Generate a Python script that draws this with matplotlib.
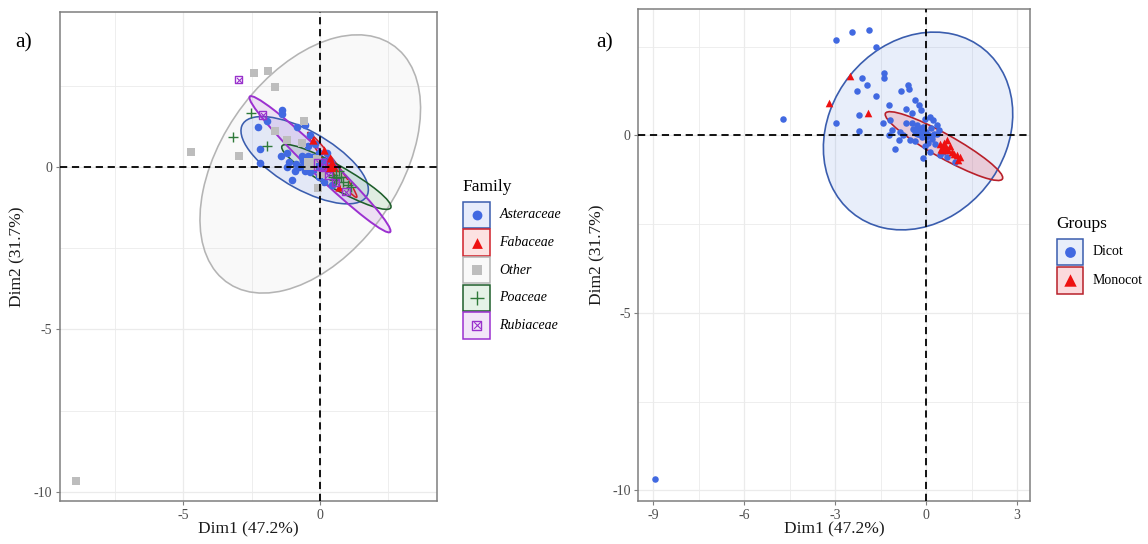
import matplotlib
matplotlib.use("Agg")
import matplotlib.pyplot as plt
from matplotlib.patches import Ellipse, Rectangle
import numpy as np

plt.rcParams['font.family'] = ['Liberation Serif', 'DejaVu Serif']
plt.rcParams['axes.unicode_minus'] = False

# ---- individuals on the first two principal dimensions ----
dim1 = [-8.94, -4.71, -2.97, -2.43, -1.89, -1.64, -2.51, -2.10, -1.94, -2.27,
        -1.39, -1.39, -1.64, -1.21, -3.19, -1.92, -2.21, -0.60, -0.55, -0.83,
        -0.36, -0.25, -0.66, -0.17, -0.45, -2.97, -1.41, -1.19, -1.13, -0.86,
        -0.75, -0.91, -1.02, -0.53, 0.13, 0.24, 0.35, 0.41, -0.09, 0.13,
        0.57, -0.30, -0.20, -0.10, 0.00, 0.10, -0.15, 0.20, 0.05, -0.05,
        0.25, -0.25, 0.15, 0.37, -0.43, -0.35, 0.30, 0.46, 0.57, 0.85,
        1.01, 1.12, 0.68, 0.71, 0.92, 0.51, 0.78, 1.05, 0.45, 0.95,
        0.70, -0.45, -0.65, -0.05, 0.00, -1.22, -2.20]
dim2 = [-9.68, 0.46, 2.70, 2.91, 2.96, 2.48, 1.67, 1.61, 1.43, 1.25,
        1.76, 1.63, 1.11, 0.85, 0.92, 0.64, 0.57, 1.42, 1.30, 1.25,
        0.99, 0.85, 0.74, 0.71, 0.64, 0.34, 0.34, 0.43, 0.15, 0.10,
        0.01, -0.13, -0.39, -0.13, 0.52, 0.43, 0.29, 0.15, -0.65, -0.46,
        -0.46, 0.30, 0.15, 0.25, 0.10, 0.00, -0.05, -0.10, -0.20, -0.30,
        0.05, 0.05, 0.20, 0.05, 0.17, -0.15, -0.25, -0.23, -0.32, -0.46,
        -0.55, -0.60, -0.13, -0.41, -0.52, -0.41, -0.30, -0.68, -0.55, -0.75,
        -0.60, 0.35, 0.35, 0.45, -0.05, 0.00, 0.12]
family = ["Other", "Other", "Rubiaceae", "Other", "Other", "Other", "Poaceae", "Rubiaceae", "Asteraceae", "Asteraceae",
          "Asteraceae", "Asteraceae", "Other", "Other", "Poaceae", "Poaceae", "Asteraceae", "Other", "Asteraceae", "Asteraceae",
          "Asteraceae", "Fabaceae", "Other", "Asteraceae", "Asteraceae", "Other", "Asteraceae", "Asteraceae", "Asteraceae", "Asteraceae",
          "Asteraceae", "Asteraceae", "Asteraceae", "Asteraceae", "Fabaceae", "Asteraceae", "Fabaceae", "Asteraceae", "Other", "Asteraceae",
          "Rubiaceae", "Asteraceae", "Asteraceae", "Other", "Asteraceae", "Rubiaceae", "Asteraceae", "Asteraceae", "Other", "Asteraceae",
          "Fabaceae", "Asteraceae", "Asteraceae", "Fabaceae", "Other", "Asteraceae", "Rubiaceae", "Poaceae", "Poaceae", "Poaceae",
          "Poaceae", "Poaceae", "Poaceae", "Other", "Other", "Poaceae", "Poaceae", "Other", "Asteraceae", "Rubiaceae",
          "Fabaceae", "Asteraceae", "Asteraceae", "Asteraceae", "Asteraceae", "Asteraceae", "Asteraceae"]
group = ["Monocot" if f == "Poaceae" else "Dicot" for f in family]
for i in (63, 64, 67):
    group[i] = "Monocot"

families = ["Asteraceae", "Fabaceae", "Other", "Poaceae", "Rubiaceae"]
groups = ["Dicot", "Monocot"]

# class centres and ellipse spread (variance / covariance terms)
fam_cx = [-0.56, 0.45, -0.355, 0.60, 0.00]
fam_cy = [0.215, 0.07, 0.10, -0.30, 0.09]
fam_sxx = [5.43, 0.81, 16.28, 4.00, 6.66]
fam_syy = [1.81, 1.00, 15.84, 1.00, 4.41]
fam_sxy = [-2.11, -0.88, 6.90, -1.83, -5.30]

grp_cx = [-0.265, 0.59]
grp_cy = [0.125, -0.30]
grp_sxx = [9.77, 3.76]
grp_syy = [7.76, 0.94]
grp_sxy = [1.49, -1.73]

x_title = "Dim1 (47.2%)"
y_title = "Dim2 (31.7%)"

# ---- styling ----
fam_point = {"Asteraceae": "#4169E1", "Fabaceae": "#EE1111", "Other": "#BDBDBD",
             "Poaceae": "#2F7A3A", "Rubiaceae": "#9932CC"}
fam_edge = {"Asteraceae": "#3A5DAE", "Fabaceae": "#D0202A", "Other": "#B4B4B4",
            "Poaceae": "#1E5E2B", "Rubiaceae": "#9B30D0"}
fam_fill = {"Asteraceae": ("#4169E1", 0.12), "Fabaceae": ("#EE1111", 0.12),
            "Other": ("#BDBDBD", 0.08), "Poaceae": ("#2F9A3A", 0.12),
            "Rubiaceae": ("#9932CC", 0.12)}
grp_point = {"Dicot": "#4169E1", "Monocot": "#EE1111"}
grp_edge = {"Dicot": "#3A5DAE", "Monocot": "#B8202A"}
grp_fill = {"Dicot": ("#4F7FE0", 0.13), "Monocot": ("#E8283A", 0.17)}

TICK_C = "#4D4D4D"
GRID_C = "#EBEBEB"
FRAME_C = "#7F7F7F"

W, H = 1148, 544
fig = plt.figure(figsize=(W / 100, H / 100), dpi=100)


def px_axes(l, t, r, b):
    return fig.add_axes([l / W, 1 - b / H, (r - l) / W, (b - t) / H])


def ellipse(ax, cx, cy, sxx, syy, sxy, edge, fill, lw=1.0):
    cov = np.array([[sxx, sxy], [sxy, syy]])
    vals, vecs = np.linalg.eigh(cov)
    ang = np.degrees(np.arctan2(vecs[1, 1], vecs[0, 1]))
    w, h = 2 * np.sqrt(vals[1]), 2 * np.sqrt(vals[0])
    ax.add_patch(Ellipse((cx, cy), w, h, angle=ang, facecolor=fill[0],
                         alpha=fill[1], edgecolor='none', zorder=2))
    ax.add_patch(Ellipse((cx, cy), w, h, angle=ang, facecolor='none',
                         edgecolor=edge, lw=lw, zorder=3))


def marker(ax, x, y, fam, s, z=4):
    c = fam_point[fam]
    if fam == "Asteraceae":
        ax.scatter(x, y, s=s, marker='o', color=c, linewidths=0, zorder=z)
    elif fam == "Fabaceae":
        ax.scatter(x, y, s=s * 1.2, marker='^', color=c, linewidths=0, zorder=z)
    elif fam == "Other":
        ax.scatter(x, y, s=s * 0.9, marker='s', color=c, linewidths=0, zorder=z)
    elif fam == "Poaceae":
        ax.scatter(x, y, s=s * 1.9, marker='+', color=c, linewidths=1.0, zorder=z)
    else:
        ax.scatter(x, y, s=s * 0.9, marker='s', facecolors='none', edgecolors=c,
                   linewidths=1.0, zorder=z)
        ax.scatter(x, y, s=s * 0.45, marker='x', color=c, linewidths=0.8, zorder=z)


def style(ax, xlim, ylim, xmaj, xmin, ymaj, ymin):
    ax.set_xlim(*xlim)
    ax.set_ylim(*ylim)
    ax.set_xticks(xmaj)
    ax.set_xticks(xmin, minor=True)
    ax.set_yticks(ymaj)
    ax.set_yticks(ymin, minor=True)
    ax.set_xticklabels([str(v) for v in xmaj])
    ax.set_yticklabels([str(v) for v in ymaj])
    ax.grid(True, which='major', color=GRID_C, lw=0.9, zorder=0)
    ax.grid(True, which='minor', color=GRID_C, lw=0.6, zorder=0)
    ax.set_axisbelow(True)
    for s in ax.spines.values():
        s.set_color(FRAME_C)
        s.set_linewidth(1.1)
    ax.tick_params(which='major', length=3, width=0.8, color=FRAME_C,
                   labelcolor=TICK_C, labelsize=10, pad=2.5)
    ax.tick_params(which='minor', length=0)
    ax.axhline(0, color='black', lw=1.3, ls=(0, (4, 2.6)), zorder=5)
    ax.axvline(0, color='black', lw=1.3, ls=(0, (4, 2.6)), zorder=5)


x = np.array(dim1)
y = np.array(dim2)
fam_arr = np.array(family)
grp_arr = np.array(group)

# ---- panel 1: by family ----
ax1 = px_axes(60, 12.1, 436.7, 501.4)
style(ax1, (-9.51, 4.27), (-10.30, 4.78), [-5, 0], [-7.5, -2.5, 2.5],
      [-10, -5, 0], [-7.5, -2.5, 2.5])
for i, f in enumerate(families):
    ellipse(ax1, fam_cx[i], fam_cy[i], fam_sxx[i], fam_syy[i], fam_sxy[i],
            fam_edge[f], fam_fill[f], lw=1.4 if f == "Rubiaceae" else 1.15)
for f in families:
    m = fam_arr == f
    marker(ax1, x[m], y[m], f, 30)
for i, f in enumerate(families):
    marker(ax1, fam_cx[i], fam_cy[i], f, 75, z=4.5)
ax1.set_xlabel(x_title, fontsize=12.5, color='#1A1A1A')
ax1.set_ylabel(y_title, fontsize=12.5, color='#1A1A1A')
ax1.xaxis.label.set_va('center')
ax1.yaxis.label.set_va('center')
ax1.xaxis.set_label_coords(0.5, (501.4 - 529) / 489.3)
ax1.yaxis.set_label_coords((17.5 - 60) / 376.7, 0.5)

# ---- panel 2: by group ----
ax2 = px_axes(638.3, 8.7, 1030, 501.4)
style(ax2, (-9.50, 3.43), (-10.31, 3.57), [-9, -6, -3, 0, 3],
      [-7.5, -4.5, -1.5, 1.5], [-10, -5, 0], [-7.5, -2.5, 2.5])
for i, g in enumerate(groups):
    ellipse(ax2, grp_cx[i], grp_cy[i], grp_sxx[i], grp_syy[i], grp_sxy[i],
            grp_edge[g], grp_fill[g], lw=1.2)
m = grp_arr == "Dicot"
ax2.scatter(x[m], y[m], s=22, marker='o', color=grp_point["Dicot"], linewidths=0, zorder=4)
m = grp_arr == "Monocot"
ax2.scatter(x[m], y[m], s=30, marker='^', color=grp_point["Monocot"], linewidths=0, zorder=4)
ax2.scatter(grp_cx[0], grp_cy[0], s=80, marker='o', color=grp_point["Dicot"], linewidths=0, zorder=4.5)
ax2.scatter(grp_cx[1], grp_cy[1], s=100, marker='^', color=grp_point["Monocot"], linewidths=0, zorder=4.5)
ax2.set_xlabel(x_title, fontsize=12.5, color='#1A1A1A')
ax2.set_ylabel(y_title, fontsize=12.5, color='#1A1A1A')
ax2.xaxis.label.set_va('center')
ax2.yaxis.label.set_va('center')
ax2.xaxis.set_label_coords(0.5, (501.4 - 529) / 492.7)
ax2.yaxis.set_label_coords((597 - 638.3) / 391.7, 0.5)

# ---- overlay in pixel units for panel tags and legends ----
ov = fig.add_axes([0, 0, 1, 1])
ov.set_xlim(0, W)
ov.set_ylim(H, 0)
ov.axis('off')

ov.text(24, 42.5, "a)", fontsize=15.5, ha='center', va='center')
ov.text(605, 42.5, "a)", fontsize=15.5, ha='center', va='center')

# family legend
ov.text(462.7, 187, "Family", fontsize=12.5, ha='left', va='center')
key = 26.5
for i, f in enumerate(families):
    top = 201.7 + i * 27.6
    fc, fa = fam_fill[f]
    ov.add_patch(Rectangle((463.3, top), key, key, facecolor=fc, alpha=fa, edgecolor='none'))
    ov.add_patch(Rectangle((463.3, top), key, key, facecolor='none', edgecolor=fam_edge[f], lw=1.1))
    marker(ov, 463.3 + key / 2, top + key / 2, f, 50)
    ov.text(499.3, top + key / 2, f, fontsize=10, style='italic', ha='left', va='center')

# group legend
ov.text(1056, 224, "Groups", fontsize=12.5, ha='left', va='center')
for i, g in enumerate(groups):
    top = 238.5 + i * 28.6
    fc, fa = grp_fill[g]
    ov.add_patch(Rectangle((1056.7, top), key, key, facecolor=fc, alpha=fa, edgecolor='none'))
    ov.add_patch(Rectangle((1056.7, top), key, key, facecolor='none', edgecolor=grp_edge[g], lw=1.1))
    if g == "Dicot":
        ov.scatter(1056.7 + key / 2, top + key / 2, s=60, marker='o', color=grp_point[g], linewidths=0)
    else:
        ov.scatter(1056.7 + key / 2, top + key / 2, s=80, marker='^', color=grp_point[g], linewidths=0)
    ov.text(1092.7, top + key / 2, g, fontsize=10, ha='left', va='center')

fig.savefig("out.png", dpi=100, facecolor='white')
